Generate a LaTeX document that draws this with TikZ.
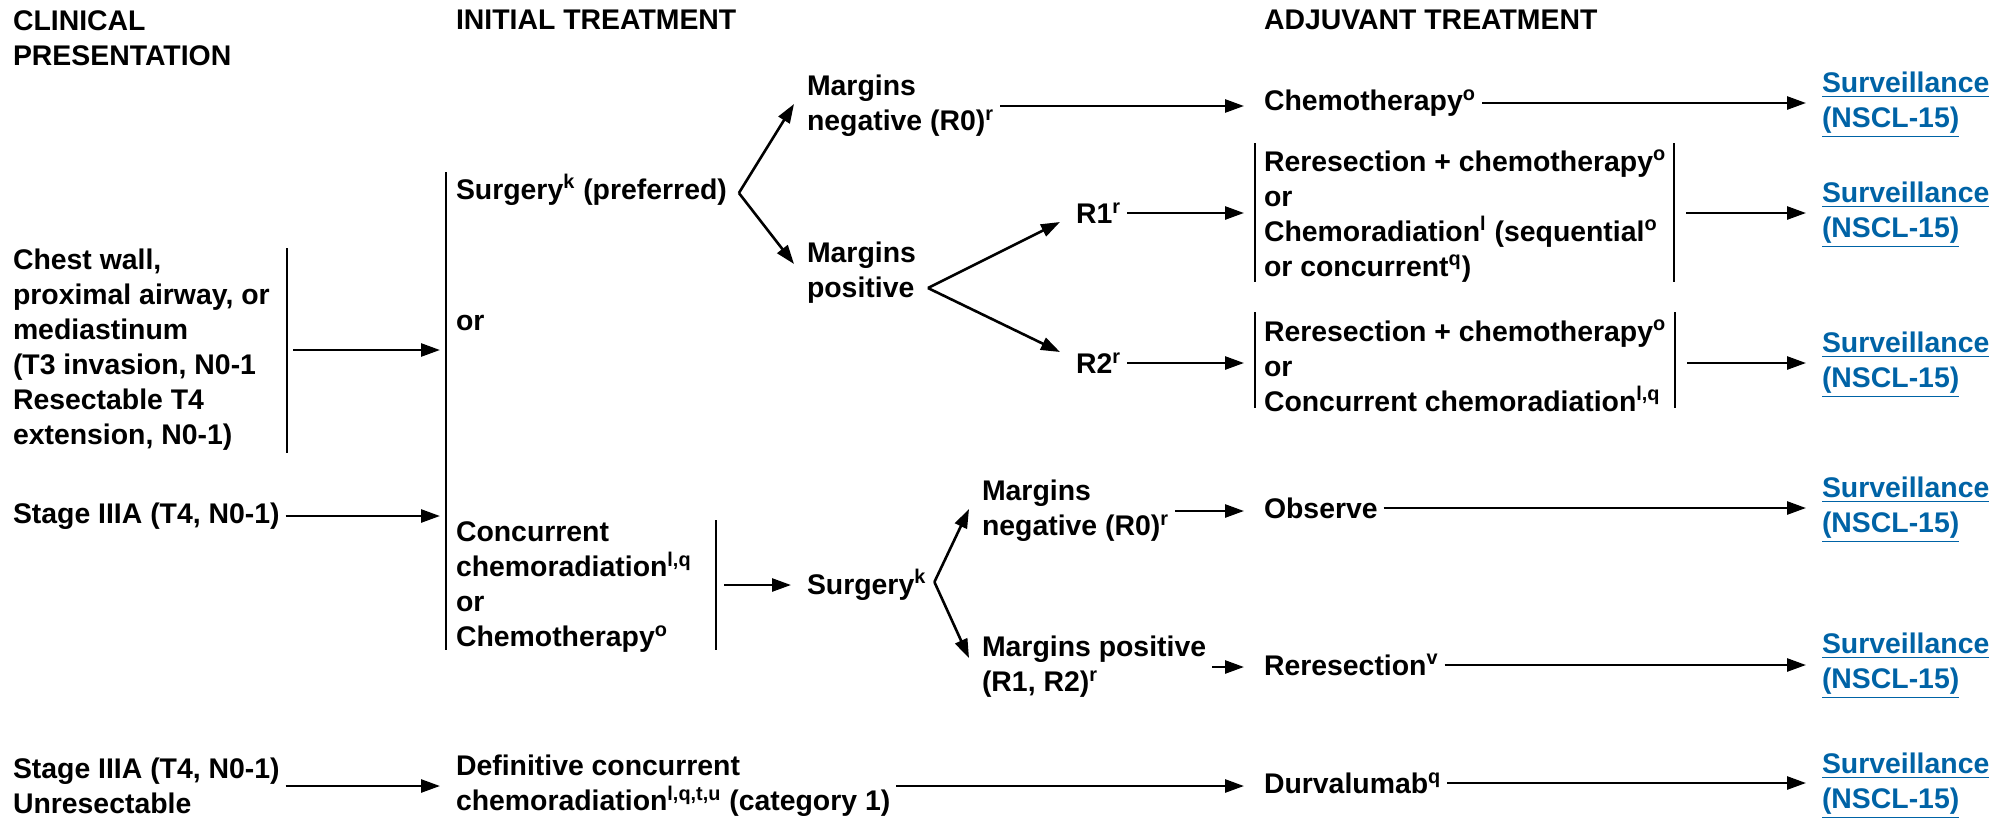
\documentclass[tikz,border=0pt]{standalone}
\usepackage{fontspec}
\setmainfont{Liberation Sans}
\usetikzlibrary{arrows.meta}
\definecolor{linkblue}{RGB}{0,99,166}
\newcommand{\fnm}[1]{\textsuperscript{#1}}
\tikzstyle{txt}=[anchor=west,align=left,inner sep=0pt,outer sep=0pt,font=\fontsize{14.2pt}{17.5pt}\selectfont\bfseries]
\tikzstyle{link}=[txt,text=linkblue]
\tikzstyle{brk}=[draw,line width=1pt]
\tikzstyle{arr}=[draw,-{Triangle[length=9.5pt,width=6.5pt]},line width=1.3pt,shorten <=3pt,shorten >=8pt]
\tikzstyle{fork}=[arr,shorten <=0pt,shorten >=0pt]

\begin{document}
\begin{tikzpicture}[x=0.5pt,y=-0.5pt]
  \useasboundingbox (0,0) rectangle (2011,819);
  % headings
  \node[txt] (hclin) at (13,38) {CLINICAL\\PRESENTATION};
  \node[txt] (hinit) at (456,20) {INITIAL TREATMENT};
  \node[txt] (hadj) at (1264,20) {ADJUVANT TREATMENT};

  % clinical presentation
  \node[txt] (chest) at (13,350) {Chest wall,\\proximal airway, or\\mediastinum\\(T3 invasion, N0-1\\Resectable T4\\extension, N0-1)};
  \node[txt] (stageA) at (13,516) {Stage IIIA (T4, N0-1)};
  \node[txt] (stageB) at (13,786) {Stage IIIA (T4, N0-1)\\Unresectable};

  % initial treatment
  \node[txt] (surgA) at (456,190) {Surgery\fnm{k} (preferred)};
  \node[txt] (orA) at (456,323) {or};
  \node[txt] (conc) at (456,587) {Concurrent\\chemoradiation\fnm{l,q}\\or\\Chemotherapy\fnm{o}};
  \node[txt] (defin) at (456,786) {Definitive concurrent\\chemoradiation\fnm{l,q,t,u} (category 1)};

  % margins
  \node[txt] (negA) at (807,106) {Margins\\negative (R0)\fnm{r}};
  \node[txt] (posA) at (807,273) {Margins\\positive};
  \node[txt] (surgB) at (807,585) {Surgery\fnm{k}};
  \node[txt] (negB) at (982,511) {Margins\\negative (R0)\fnm{r}};
  \node[txt] (posB) at (982,667) {Margins positive\\(R1, R2)\fnm{r}};
  \node[txt] (rone) at (1076,213) {R1\fnm{r}};
  \node[txt] (rtwo) at (1076,363) {R2\fnm{r}};

  % adjuvant treatment
  \node[txt] (chemo) at (1264,103) {Chemotherapy\fnm{o}};
  \node[txt] (optA) at (1264,216) {Reresection + chemotherapy\fnm{o}\\or\\Chemoradiation\fnm{l} (sequential\fnm{o}\\or concurrent\fnm{q})};
  \node[txt] (optB) at (1264,366) {Reresection + chemotherapy\fnm{o}\\or\\Concurrent chemoradiation\fnm{l,q}};
  \node[txt] (obs) at (1264,508) {Observe};
  \node[txt] (reres) at (1264,665) {Reresection\fnm{v}};
  \node[txt] (durv) at (1264,783) {Durvalumab\fnm{q}};

  % surveillance links
  \node[link] (survA) at (1822,105) {\underline{Surveillance}\\\underline{(NSCL-15)}};
  \node[link] (survB) at (1822,215) {\underline{Surveillance}\\\underline{(NSCL-15)}};
  \node[link] (survC) at (1822,365) {\underline{Surveillance}\\\underline{(NSCL-15)}};
  \node[link] (survD) at (1822,510) {\underline{Surveillance}\\\underline{(NSCL-15)}};
  \node[link] (survE) at (1822,666) {\underline{Surveillance}\\\underline{(NSCL-15)}};
  \node[link] (survF) at (1822,786) {\underline{Surveillance}\\\underline{(NSCL-15)}};

  % brackets
  \coordinate (chestT) at (287,248); \coordinate (chestB) at (287,453);
  \coordinate (initT) at (446,172);  \coordinate (initB) at (446,650);
  \coordinate (concT) at (716,520);  \coordinate (concB) at (716,650);
  \coordinate (optAl) at (1255,143); \coordinate (optAlb) at (1255,282);
  \coordinate (optAr) at (1674,143); \coordinate (optArb) at (1674,282);
  \coordinate (optBl) at (1255,312); \coordinate (optBlb) at (1255,408);
  \coordinate (optBr) at (1675,312); \coordinate (optBrb) at (1675,408);
  \draw[brk] (chestT) -- (chestB);
  \draw[brk] (initT) -- (initB);
  \draw[brk] (concT) -- (concB);
  \draw[brk] (optAl) -- (optAlb);
  \draw[brk] (optAr) -- (optArb);
  \draw[brk] (optBl) -- (optBlb);
  \draw[brk] (optBr) -- (optBrb);

  % forks
  \coordinate (forkA) at ([xshift=6pt,yshift=-1.5pt]surgA.east);
  \coordinate (forkB) at ([xshift=6pt,yshift=-7.5pt]posA.east);
  \coordinate (forkC) at ([xshift=4pt,yshift=1.5pt]surgB.east);
  \draw[fork] (forkA) -- ([xshift=-6.5pt,yshift=1pt]negA.west);
  \draw[fork] (forkA) -- ([xshift=-6.5pt,yshift=4.5pt]posA.west);
  \draw[fork] (forkB) -- ([xshift=-8pt,yshift=-4.5pt]rone.west);
  \draw[fork] (forkB) -- ([xshift=-8pt,yshift=5.5pt]rtwo.west);
  \draw[fork] (forkC) -- ([xshift=-6.5pt,yshift=1pt]negB.west);
  \draw[fork] (forkC) -- ([xshift=-6.5pt,yshift=4.5pt]posB.west);

  % arrows
  \draw[arr,shorten >=3pt] (chest.east -| chestT) -- (chest.east -| initT);
  \draw[arr,shorten >=3pt] (stageA.east) -- (stageA.east -| initT);
  \draw[arr] (stageB.east) -- (stageB.east -| defin.west);
  \draw[arr,shorten <=4pt] (surgB.west -| concT) -- (surgB.west);
  \draw[arr,shorten >=10pt] (negA.east) -- (negA.east -| chemo.west);
  \draw[arr] (chemo.east) -- (chemo.east -| survA.west);
  \draw[arr,shorten >=10pt] (rone.east) -- (rone.east -| optA.west);
  \draw[arr,shorten <=6pt] (rone.east -| optAr) -- (rone.east -| survB.west);
  \draw[arr,shorten >=10pt] (rtwo.east) -- (rtwo.east -| optB.west);
  \draw[arr,shorten <=6pt] (rtwo.east -| optBr) -- (rtwo.east -| survC.west);
  \draw[arr,shorten >=10pt] (negB.east) -- (negB.east -| obs.west);
  \draw[arr] (obs.east) -- (obs.east -| survD.west);
  \draw[arr,shorten >=10pt] (posB.east) -- (posB.east -| reres.west);
  \draw[arr] (reres.east) -- (reres.east -| survE.west);
  \draw[arr,shorten >=10pt] (defin.east) -- (defin.east -| durv.west);
  \draw[arr] (durv.east) -- (durv.east -| survF.west);
\end{tikzpicture}
\end{document}
